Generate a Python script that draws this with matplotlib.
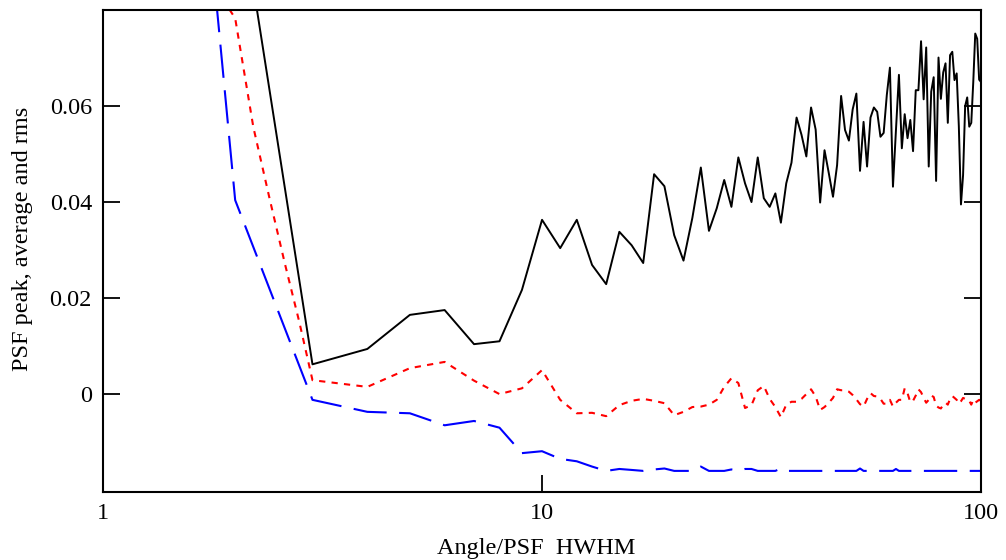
import numpy as np
import matplotlib
matplotlib.use('Agg')
import matplotlib.pyplot as plt
from matplotlib.ticker import NullLocator

# angle in units of PSF HWHM
angle = np.arange(1, 101)
angle_avg = [1, 2, 2.2, 2.4, 2.6, 2.8] + list(range(3, 101))

# PSF peak (black, solid)
peak = [0.5, 0.109, 0.0062, 0.0094, 0.0165, 0.0175, 0.0104, 0.0110, 0.0217, 0.0363,
        0.0304, 0.0363, 0.0269, 0.0229, 0.0338, 0.0310, 0.0273, 0.0458, 0.0433, 0.0331,
        0.0278, 0.0367, 0.0472, 0.0340, 0.0387, 0.0446, 0.0390, 0.0493, 0.0439, 0.0400,
        0.0493, 0.0408, 0.0390, 0.0418, 0.0357, 0.0439, 0.0482, 0.0576, 0.0540, 0.0495,
        0.0597, 0.0551, 0.0399, 0.0508, 0.0460, 0.0411, 0.0477, 0.0621, 0.0550, 0.0528,
        0.0593, 0.0626, 0.0465, 0.0567, 0.0474, 0.0576, 0.0597, 0.0588, 0.0536, 0.0544,
        0.0623, 0.0680, 0.0432, 0.0550, 0.0665, 0.0512, 0.0583, 0.0533, 0.0571, 0.0506,
        0.0633, 0.0633, 0.0735, 0.0614, 0.0722, 0.0474, 0.0630, 0.0660, 0.0444, 0.0701,
        0.0615, 0.0670, 0.0689, 0.0565, 0.0706, 0.0713, 0.0654, 0.0668, 0.0558, 0.0395,
        0.0456, 0.0600, 0.0618, 0.0557, 0.0565, 0.0650, 0.0751, 0.0740, 0.0655, 0.0650]

# average (red, dotted)
average = [0.12, 0.0783, 0.0556, 0.0404, 0.0269, 0.0150,
           0.0029, 0.0015, 0.0054, 0.0067, 0.0028, 0.0000, 0.0012, 0.0050,
           -0.0012, -0.0040, -0.0039, -0.0046, -0.0023, -0.0014, -0.0010, -0.0014, -0.0019, -0.0044,
           -0.0037, -0.0027, -0.0026, -0.0022, -0.0012, 0.0015, 0.0033, 0.0023, -0.0029, -0.0023,
           0.0008, 0.0017, -0.0010, -0.0027, -0.0048, -0.0022, -0.0016, -0.0016, -0.0010, 0.0000,
           0.0010, -0.0005, -0.0033, -0.0027, -0.0018, -0.0008, 0.0010, 0.0008, 0.0008, 0.0005,
           -0.0002, -0.0011, -0.0021, -0.0026, -0.0010, 0.0002, -0.0004, -0.0005, -0.0010, -0.0020,
           -0.0020, -0.0012, -0.0026, -0.0018, -0.0012, -0.0012, 0.0012, 0.0002, -0.0017, -0.0014,
           -0.0003, 0.0010, 0.0004, -0.0008, -0.0018, -0.0012, -0.0003, -0.0006, -0.0024, -0.0028,
           -0.0030, -0.0022, -0.0018, -0.0022, -0.0010, -0.0004, -0.0008, -0.0012, -0.0020, -0.0015,
           -0.0008, -0.0010, -0.0010, -0.0014, -0.0022, -0.0012, -0.0018, -0.0015, -0.0012, -0.0014]

# rms (blue, long dashes)
rms = [0.33, 0.0404, -0.0012, -0.0037, -0.0040, -0.0065, -0.0056, -0.0070, -0.0123, -0.0119,
       -0.0135, -0.0140, -0.0151, -0.0160, -0.0156, -0.0158, -0.0160, -0.0157, -0.0155, -0.0160,
       -0.0160, -0.0160, -0.0151, -0.0160, -0.0160, -0.0160, -0.0157, -0.0160, -0.0156, -0.0156,
       -0.0160, -0.0160, -0.0160, -0.0160, -0.0155, -0.0160, -0.0160, -0.0160, -0.0160, -0.0160,
       -0.0160, -0.0160, -0.0160, -0.0160, -0.0160, -0.0160, -0.0160, -0.0160, -0.0160, -0.0160,
       -0.0160, -0.0160, -0.0155, -0.0160, -0.0160, -0.0160, -0.0160, -0.0160, -0.0160, -0.0160,
       -0.0160, -0.0160, -0.0160, -0.0156, -0.0160, -0.0160, -0.0160, -0.0160, -0.0160, -0.0160,
       -0.0160, -0.0160, -0.0160, -0.0160, -0.0160, -0.0160, -0.0160, -0.0160, -0.0160, -0.0160,
       -0.0160, -0.0160, -0.0160, -0.0160, -0.0160, -0.0160, -0.0160, -0.0160, -0.0160, -0.0160,
       -0.0160, -0.0160, -0.0160, -0.0160, -0.0160, -0.0160, -0.0160, -0.0160, -0.0160, -0.0160]

x_ticks = [1, 10, 100]
x_ticklabels = ['1', '10', '100']
y_ticks = [0, 0.02, 0.04, 0.06]
y_ticklabels = ['0', '0.02', '0.04', '0.06']

plt.rcParams['font.family'] = ['Liberation Serif', 'DejaVu Serif']

fig = plt.figure(figsize=(10.06, 5.6), dpi=100)
ax = fig.add_axes([0.1024, 0.1214, 0.8728, 0.8607])

ax.plot(angle, peak, color='black', lw=1.4)
ax.plot(angle_avg, average, color='red', lw=1.5, dashes=(3, 3))
ax.plot(angle, rms, color='blue', lw=1.5, dashes=(16, 6))

ax.set_xscale('log')
ax.set_xlim(1, 100)
ax.set_ylim(-0.0204, 0.08)
ax.set_xticks(x_ticks, x_ticklabels)
ax.xaxis.set_minor_locator(NullLocator())
ax.set_yticks(y_ticks, y_ticklabels)

ax.tick_params(direction='in', length=12, width=1.3, labelsize=17.5, right=True, pad=8)
for s in ax.spines.values():
    s.set_linewidth(1.5)

ax.set_xlabel('Angle/PSF  HWHM', fontsize=17.5, va='center')
ax.xaxis.set_label_coords(0.493, -0.118)
ax.set_ylabel('PSF peak, average and rms', fontsize=17.5, va='center')
ax.yaxis.set_label_coords(-0.092, 0.525)

fig.savefig('out.png', dpi=100)
